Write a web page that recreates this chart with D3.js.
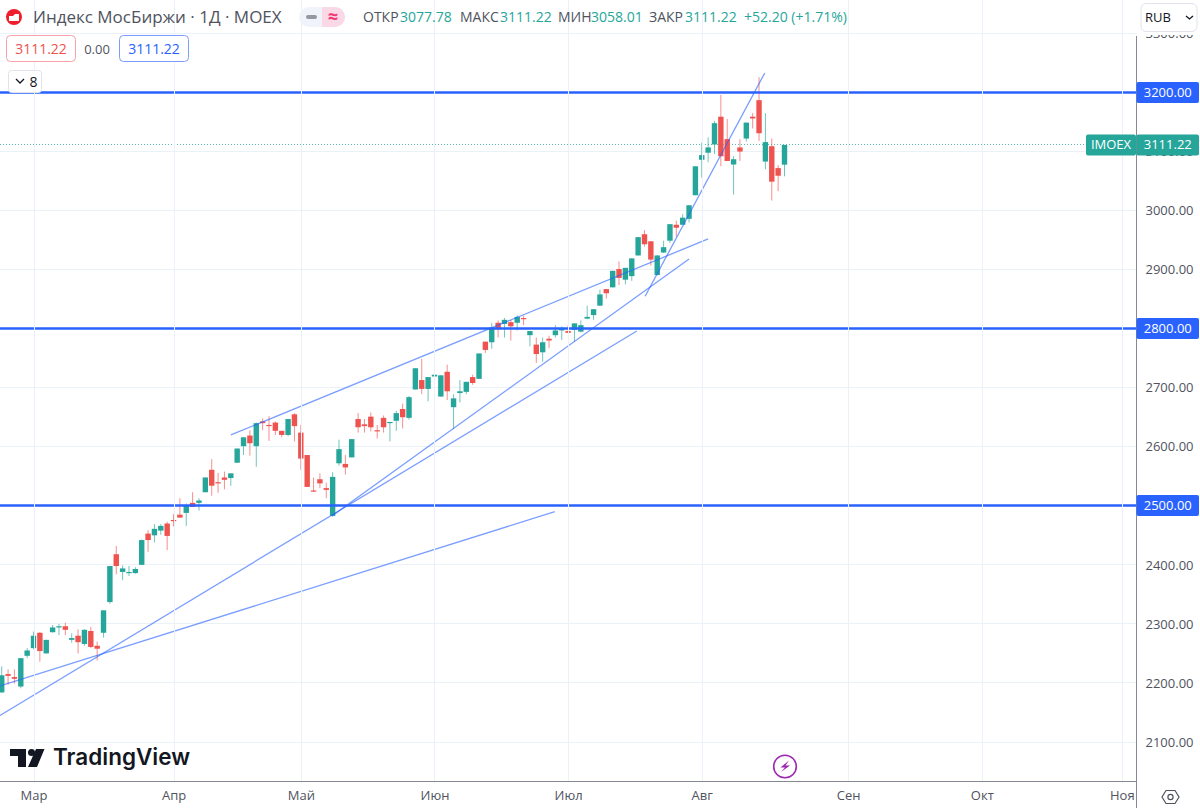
<!DOCTYPE html>
<html>
<head>
<meta charset="utf-8">
<script src="https://unpkg.com/d3@7/dist/d3.min.js"></script>
<style>
html, body { margin: 0; padding: 0; background: #fff; }
svg { display: block; }
text { font-family: "Open Sans", "Noto Sans", sans-serif; }
</style>
</head>
<body>
<div class="chart"></div>
<script>
// daily candles
const opens = [2184,2215,2210,2194,2246,2259,2285,2250,2286,2294,2296,2273,2280,2266,2288,2263,2285,2337,2418,2388,2387,2386,2400,2453,2450,2458,2470,2476,2485,2488,2505,2505,2523,2561,2540,2548,2547,2573,2601,2619,2601,2643,2637,2641,2627,2620,2655,2624,2586,2526,2545,2530,2483,2572,2571,2582,2647,2638,2651,2628,2649,2640,2644,2664,2649,2697,2713,2698,2719,2685,2727,2667,2691,2693,2718,2715,2778,2777,2810,2808,2811,2810,2818,2789,2773,2760,2783,2789,2797,2796,2798,2795,2817,2823,2839,2867,2870,2901,2883,2889,2924,2960,2948,2891,2929,2949,2976,2976,2986,3026,3086,3098,3112,3159,3121,3078,3107,3122,3159,3187,3083,3109,3072,3077.78];
const highs = [2228,2223,2223,2242,2259,2287,2286,2273,2298,2300,2302,2284,2291,2291,2295,2270,2323,2398,2432,2399,2398,2396,2443,2459,2469,2469,2473,2486,2513,2504,2523,2513,2548,2579,2556,2558,2555,2597,2616,2628,2641,2648,2652,2643,2627,2647,2657,2637,2586,2548,2555,2539,2557,2612,2586,2613,2657,2647,2658,2637,2653,2642,2661,2673,2686,2733,2749,2718,2731,2721,2739,2689,2713,2710,2722,2758,2778,2810,2814,2818,2815,2823,2822,2796,2785,2785,2788,2806,2804,2806,2809,2814,2839,2833,2866,2867,2898,2914,2903,2919,2955,2967,2948,2925,2949,2977,2983,2994,3009,3075,3115,3124,3152,3196,3155,3092,3121,3149,3165,3226,3165,3122,3077,3111.22];
const lows = [2183,2197,2199,2191,2242,2257,2236,2250,2285,2281,2281,2268,2250,2263,2259,2238,2277,2334,2384,2374,2381,2385,2400,2422,2438,2451,2425,2465,2480,2466,2498,2492,2523,2517,2522,2528,2534,2573,2586,2585,2566,2628,2610,2620,2616,2618,2609,2561,2532,2524,2530,2513,2482,2568,2553,2582,2624,2624,2626,2614,2624,2609,2627,2631,2646,2697,2689,2677,2712,2685,2679,2630,2675,2689,2705,2715,2759,2766,2785,2785,2780,2797,2806,2770,2742,2744,2767,2785,2781,2792,2778,2794,2816,2815,2838,2851,2870,2874,2875,2881,2924,2939,2907,2890,2928,2945,2956,2976,2980,3026,3056,3082,3096,3075,3084,3027,3084,3117,3139,3118,3070,3017,3033,3058.01];
const closes = [2213,2212,2207,2242,2255,2280,2254,2273,2294,2296,2290,2276,2269,2290,2261,2258,2323,2398,2398,2394,2388,2393,2442,2442,2461,2466,2449,2474,2480,2501,2498,2509,2548,2534,2538,2544,2555,2597,2616,2606,2640,2640,2635,2627,2620,2647,2635,2580,2532,2524,2538,2527,2549,2596,2565,2613,2633,2635,2633,2626,2633,2642,2657,2650,2684,2733,2698,2718,2722,2721,2694,2682,2694,2710,2708,2758,2764,2802,2799,2815,2804,2820,2816,2796,2757,2777,2780,2797,2800,2793,2809,2806,2820,2833,2858,2860,2898,2886,2903,2919,2955,2943,2917,2924,2938,2977,2971,2988,3009,3075,3094,3107,3148,3092,3084,3087,3100,3149,3156,3131,3116,3049,3059,3111.22];

const levels = [3200, 2800, 2500];
const yTicks = [2100,2200,2300,2400,2500,2600,2700,2800,2900,3000,3100,3200,3300];
const monthIdx = [5, 27, 47, 68, 89, 110, 133, 154, 176];
const monthNames = ["Мар","Апр","Май","Июн","Июл","Авг","Сен","Окт","Ноя"];

// drawn trend lines: [index, price, index, price]
const trendLines = [
	[-0.27, 2145, 99.8, 2796],
	[51.9, 2483, 108, 2918],
	[-0.27, 2195, 86.9, 2490],
	[36, 2620, 111, 2952],
	[101.1, 2855, 119.9, 3233],
];

const lastPrice = 3111.22;
const width = 1200, height = 808;
const paneRight = 1136.5, paneBottom = 781.5, paneTop = 33;
const green = "#26a69a", red = "#ef5350", blue = "#2962ff";
const gridColor = "#eaf1f8", inkColor = "#50535e";

const x = d3.scaleLinear().domain([0, 123]).range([1.7, 784.5]);
const y = d3.scaleLinear().domain([2100, 3300]).range([742, 33.45]);
const snap = (v) => Math.floor(v) + 0.5;

const svg = d3.select(".chart").append("svg")
	.attr("width", width)
	.attr("height", height);

svg.append("clipPath").attr("id", "pane").append("rect")
	.attr("x", 0).attr("y", paneTop)
	.attr("width", paneRight).attr("height", paneBottom - paneTop);
svg.append("clipPath").attr("id", "scale").append("rect")
	.attr("x", paneRight).attr("y", 35)
	.attr("width", width - paneRight).attr("height", paneBottom - 35);

const pane = svg.append("g").attr("clip-path", "url(#pane)");

// grid
pane.selectAll(".hgrid").data(yTicks).enter().append("line")
	.attr("x1", 0).attr("x2", paneRight)
	.attr("y1", (d) => snap(y(d)))
	.attr("y2", (d) => snap(y(d)))
	.attr("stroke", gridColor);
svg.selectAll(".vgrid").data(monthIdx).enter().append("line")
	.attr("x1", (d) => Math.round(x(d)) + 0.5)
	.attr("x2", (d) => Math.round(x(d)) + 0.5)
	.attr("y1", 0).attr("y2", paneBottom)
	.attr("stroke", gridColor);
svg.append("line")
	.attr("x1", 0).attr("x2", paneRight)
	.attr("y1", 33.5).attr("y2", 33.5)
	.attr("stroke", gridColor);

// last price line
pane.append("line")
	.attr("x1", 0).attr("x2", 1086)
	.attr("y1", snap(y(lastPrice)))
	.attr("y2", snap(y(lastPrice)))
	.attr("stroke", green)
	.attr("stroke-opacity", 0.75)
	.attr("stroke-dasharray", "1 2");

// candles
const candles = pane.selectAll(".candle").data(d3.range(opens.length)).enter().append("g");
candles.append("line")
	.attr("x1", (i) => x(i)).attr("x2", (i) => x(i))
	.attr("y1", (i) => y(highs[i])).attr("y2", (i) => y(lows[i]))
	.attr("stroke", (i) => (closes[i] >= opens[i] ? green : red))
	.attr("stroke-opacity", 0.65);
candles.append("rect")
	.attr("x", (i) => x(i) - 2.7)
	.attr("width", 5.4)
	.attr("y", (i) => y(Math.max(opens[i], closes[i])))
	.attr("height", (i) => Math.max(1.2, Math.abs(y(opens[i]) - y(closes[i]))))
	.attr("fill", (i) => (closes[i] >= opens[i] ? green : red));

// trend lines
pane.selectAll(".trend").data(trendLines).enter().append("line")
	.attr("x1", (d) => x(d[0])).attr("y1", (d) => y(d[1]))
	.attr("x2", (d) => x(d[2])).attr("y2", (d) => y(d[3]))
	.attr("stroke", blue)
	.attr("stroke-opacity", 0.62)
	.attr("stroke-width", 1.3);

// horizontal levels
pane.selectAll(".level").data(levels).enter().append("line")
	.attr("x1", 0).attr("x2", paneRight)
	.attr("y1", (d) => snap(y(d)))
	.attr("y2", (d) => snap(y(d)))
	.attr("stroke", blue)
	.attr("stroke-width", 2.4);

// price scale
const yAxis = d3.axisRight(y).tickValues(yTicks).tickSize(0).tickPadding(9).tickFormat(d3.format(".2f"));
const yG = svg.append("g")
	.attr("clip-path", "url(#scale)")
	.append("g")
	.attr("transform", `translate(${paneRight},0)`)
	.call(yAxis);
yG.select(".domain").remove();
yG.selectAll("text").attr("fill", inkColor).style("font-size", "13px");

svg.append("line")
	.attr("x1", paneRight).attr("x2", paneRight)
	.attr("y1", 36).attr("y2", height)
	.attr("stroke", "#868993");

// time scale
const xAxis = d3.axisBottom(x).tickValues(monthIdx).tickSize(0).tickPadding(9).tickFormat((d, i) => monthNames[i]);
const xG = svg.append("g")
	.attr("transform", `translate(0,${paneBottom})`)
	.call(xAxis);
xG.select(".domain").remove();
xG.selectAll("text").attr("fill", inkColor).style("font-size", "13px");
svg.append("line")
	.attr("x1", 0).attr("x2", width - 63)
	.attr("y1", paneBottom).attr("y2", paneBottom)
	.attr("stroke", "#868993");

// price tags
function tag(px, w, yc, fill, label) {
	svg.append("rect")
		.attr("x", px).attr("y", yc - 10.5)
		.attr("width", w).attr("height", 21)
		.attr("rx", 2)
		.attr("fill", fill);
	svg.append("text")
		.attr("x", px + w / 2).attr("y", yc + 4.5)
		.attr("text-anchor", "middle")
		.attr("fill", "#fff")
		.style("font-size", "13px")
		.text(label);
}
levels.forEach((d) => tag(paneRight, 62.5, snap(y(d)), blue, d3.format(".2f")(d)));
tag(1086, 50, y(lastPrice), green, "IMOEX");
tag(paneRight, 62.5, y(lastPrice), green, d3.format(".2f")(lastPrice));

// header
svg.append("circle").attr("cx", 14).attr("cy", 17).attr("r", 8).attr("fill", "#f01e2c");
svg.append("path").attr("d", "M9 21 V16 H13 L15 14 H19 V21 Z").attr("fill", "#fff");
svg.append("text").attr("x", 33).attr("y", 23)
	.attr("fill", inkColor).style("font-size", "17px")
	.text("Индекс МосБиржи · 1Д · MOEX");

svg.append("rect").attr("x", 299).attr("y", 7).attr("width", 46).attr("height", 20).attr("rx", 10).attr("fill", "#f0f3fa");
svg.append("path").attr("d", "M322 7 H335 A10 10 0 0 1 335 27 H322 Z").attr("fill", "#fbd8e6");
svg.append("rect").attr("x", 306).attr("y", 15).attr("width", 11).attr("height", 4).attr("rx", 2).attr("fill", "#9598a1");
svg.append("text").attr("x", 333).attr("y", 23).attr("text-anchor", "middle")
	.attr("fill", "#f23674").style("font-size", "18px").style("font-weight", 700).text("≈");

const legendBits = [
	[363, "ОТКР", inkColor], [400, "3077.78", green],
	[460, "МАКС", inkColor], [500, "3111.22", green],
	[558, "МИН", inkColor], [591, "3058.01", green],
	[649, "ЗАКР", inkColor], [685, "3111.22", green],
	[744, "+52.20 (+1.71%)", green],
];
svg.selectAll(".ohlc").data(legendBits).enter().append("text")
	.attr("x", (d) => d[0]).attr("y", 22)
	.attr("fill", (d) => d[2])
	.style("font-size", "14px")
	.text((d) => d[1]);

// chips under the header
svg.append("rect").attr("x", 6.5).attr("y", 35.5).attr("width", 69).attr("height", 26).attr("rx", 4)
	.attr("fill", "#fff").attr("stroke", "#f7a1a8");
svg.append("text").attr("x", 41).attr("y", 54).attr("text-anchor", "middle")
	.attr("fill", red).style("font-size", "14px").text("3111.22");
svg.append("text").attr("x", 97).attr("y", 54).attr("text-anchor", "middle")
	.attr("fill", inkColor).style("font-size", "13px").text("0.00");
svg.append("rect").attr("x", 119.5).attr("y", 35.5).attr("width", 69).attr("height", 26).attr("rx", 4)
	.attr("fill", "#fff").attr("stroke", "#7c9bff");
svg.append("text").attr("x", 154).attr("y", 54).attr("text-anchor", "middle")
	.attr("fill", blue).style("font-size", "14px").text("3111.22");

svg.append("rect").attr("x", 8.5).attr("y", 70.5).attr("width", 33).attr("height", 22).attr("rx", 3)
	.attr("fill", "#fff").attr("stroke", "#e0e3eb");
svg.append("path").attr("d", "M16 79 L20 83 L24 79").attr("fill", "none").attr("stroke", "#131722").attr("stroke-width", 1.3);
svg.append("text").attr("x", 33.5).attr("y", 87).attr("text-anchor", "middle")
	.attr("fill", "#131722").style("font-size", "14px").text("8");

// currency button
svg.append("rect").attr("x", 1141).attr("y", 3.5).attr("width", 56).attr("height", 28).attr("rx", 5)
	.attr("fill", "#fff").attr("stroke", "#e0e3eb");
svg.append("text").attr("x", 1145).attr("y", 22)
	.attr("fill", "#131722").style("font-size", "13px").text("RUB");
svg.append("path").attr("d", "M1186 16 L1189.5 19 L1193 16").attr("fill", "none").attr("stroke", "#131722").attr("stroke-width", 1.3);

// logo
svg.append("path").attr("d", "M10 749 H26 V767 H18 V756 H10 Z M36 749 H44.5 L37 767 H28 Z").attr("fill", "#131722");
svg.append("circle").attr("cx", 31.5).attr("cy", 752.5).attr("r", 3.5).attr("fill", "#131722");
svg.append("text").attr("x", 53).attr("y", 765)
	.attr("fill", "#131722")
	.style("font-family", "Inter, sans-serif")
	.style("font-size", "22.5px")
	.style("font-weight", 600)
	.text("TradingView");

// lightning badge
svg.append("circle").attr("cx", 785).attr("cy", 766.5).attr("r", 11.3)
	.attr("fill", "#fff").attr("stroke", "#9c27b0").attr("stroke-width", 1.6);
svg.append("path").attr("d", "M789 760.5 L780.5 767.5 H785 L781 772 L790 765.5 H785.5 Z").attr("fill", "#9c27b0");

// settings icon
svg.append("path").attr("d", "M1162 797 L1166 790.5 H1175 L1179 797 L1175 803.5 H1166 Z")
	.attr("fill", "none").attr("stroke", "#50535e").attr("stroke-width", 1.2);
svg.append("circle").attr("cx", 1170.5).attr("cy", 797).attr("r", 2.6)
	.attr("fill", "none").attr("stroke", "#50535e").attr("stroke-width", 1.2);
</script>
</body>
</html>
